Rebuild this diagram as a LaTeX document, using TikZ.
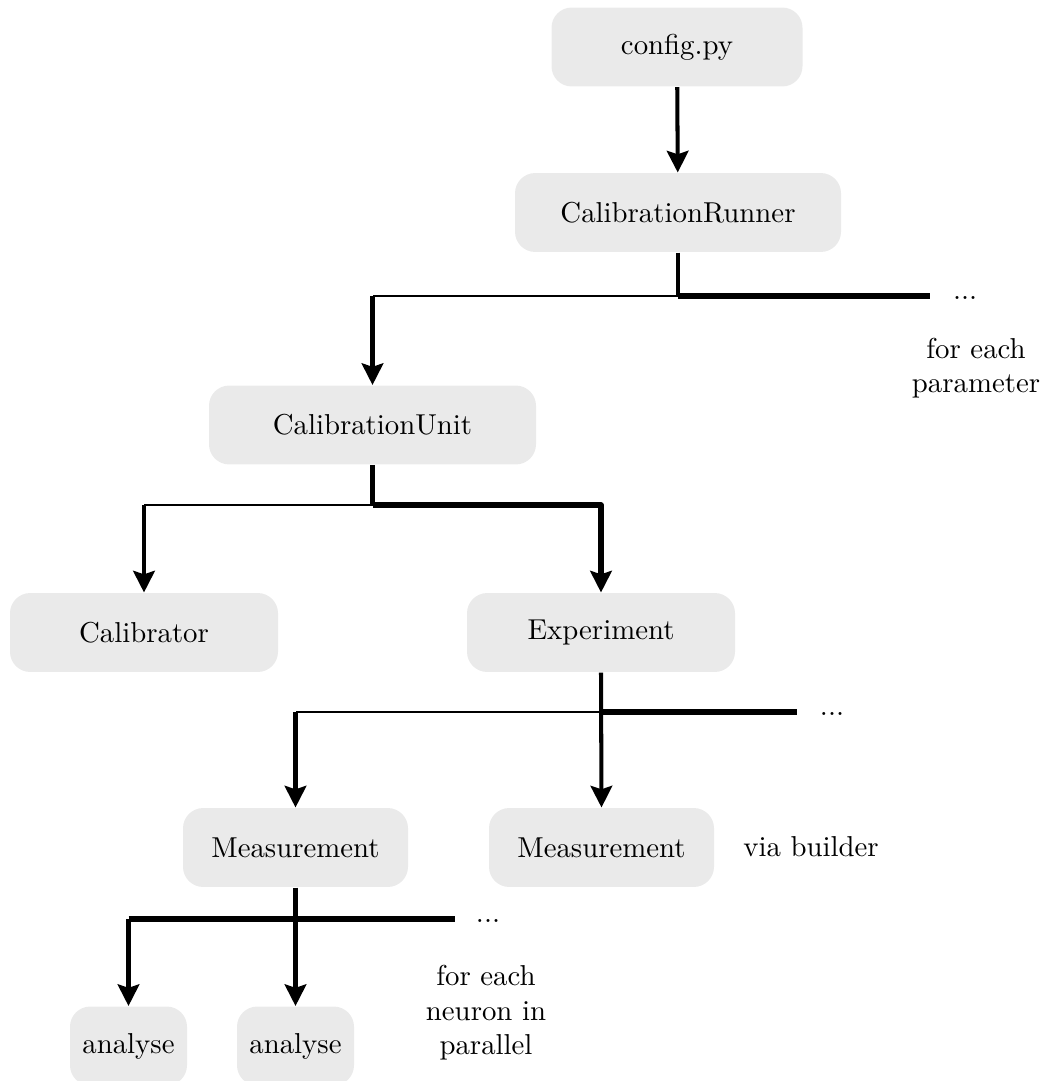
\documentclass[tikz,border=0pt]{standalone}
\usetikzlibrary{arrows.meta}
\definecolor{boxgray}{HTML}{EAEAEA}
\begin{document}
\begin{tikzpicture}[x=0.3472pt,y=-0.3472pt,
  box/.style={fill=boxgray, rounded corners=7pt, minimum height=27.4pt, inner sep=0pt, text=black},
  arr/.style={line width=1.4pt, -{Stealth[length=7.5pt,width=7.5pt,inset=1.2pt]}},
  thinl/.style={line width=0.9pt},
  thickl/.style={line width=1.8pt},
  vline/.style={line width=1.4pt},
  lbl/.style={inner sep=0pt, align=center}]
\useasboundingbox (0,0) rectangle (1041,1081);
\clip (0,0) rectangle (1041,1081);
% nodes
\node[box, minimum width={251*0.3472pt}] (config) at (677,47) {config.py};
\node[box, minimum width={326*0.3472pt}] (runner) at (678,212.5) {CalibrationRunner};
\node[box, minimum width={327*0.3472pt}] (unit) at (372.5,425) {CalibrationUnit};
\node[box, minimum width={268*0.3472pt}] (calib) at (144,632.5) {Calibrator};
\node[box, minimum width={268*0.3472pt}] (exper) at (601,632.5) {Experiment};
\node[box, minimum width={225*0.3472pt}] (meas1) at (295.5,847.5) {Measurement};
\node[box, minimum width={225*0.3472pt}] (meas2) at (601.5,847.5) {Measurement};
\node[box, minimum width={117*0.3472pt}] (an1) at (128.5,1046) {analyse};
\node[box, minimum width={117*0.3472pt}] (an2) at (295.5,1046) {analyse};
% labels
\node[lbl] (dots1) at (965,298) {...};
\node[lbl] (param) at (976,368) {for each\\parameter};
\node[lbl] (dots3) at (832,714) {...};
\node[lbl] (builder) at (811,847) {via builder};
\node[lbl] (dots4) at (488,921) {...};
\node[lbl] (neuron) at (486,1013) {for each\\neuron in\\parallel};
% coordinates
\coordinate (j1) at (runner.south |- 0,296);
\coordinate (l1) at (unit.north |- 0,296);
\coordinate (e1) at (930,296);
\coordinate (j2) at (unit.south |- 0,505);
\coordinate (l2) at (calib.north |- 0,505);
\coordinate (j3) at (exper.south |- 0,712);
\coordinate (l3) at (meas1.north |- 0,712);
\coordinate (e3) at (797,712);
\coordinate (j4) at (meas1.south |- 0,919);
\coordinate (l4) at (an1.north |- 0,919);
\coordinate (e4) at (455,919);
% connectors
\draw[arr] (config) -- (runner);
\draw[vline] (runner.south) -- (j1);
\draw[thinl] (j1) -- (l1);
\draw[thickl] (j1) -- (e1);
\draw[arr] (l1) -- (unit.north);
\draw[vline] (unit.south) -- (j2);
\draw[thinl] (j2) -- (l2);
\draw[arr] (l2) -- (calib.north);
\draw[thickl, line join=round] (j2) -| ([yshift=4pt]exper.north);
\draw[arr] ([yshift=5pt]exper.north) -- (exper.north);
\draw[arr] (exper.south) -- (meas2.north);
\draw[thinl] (j3) -- (l3);
\draw[thickl] (j3) -- (e3);
\draw[arr] (l3) -- (meas1.north);
\draw[arr] (meas1.south) -- (an2.north);
\draw[thickl] (l4) -- (e4);
\draw[arr] (l4) -- (an1.north);
\end{tikzpicture}
\end{document}
